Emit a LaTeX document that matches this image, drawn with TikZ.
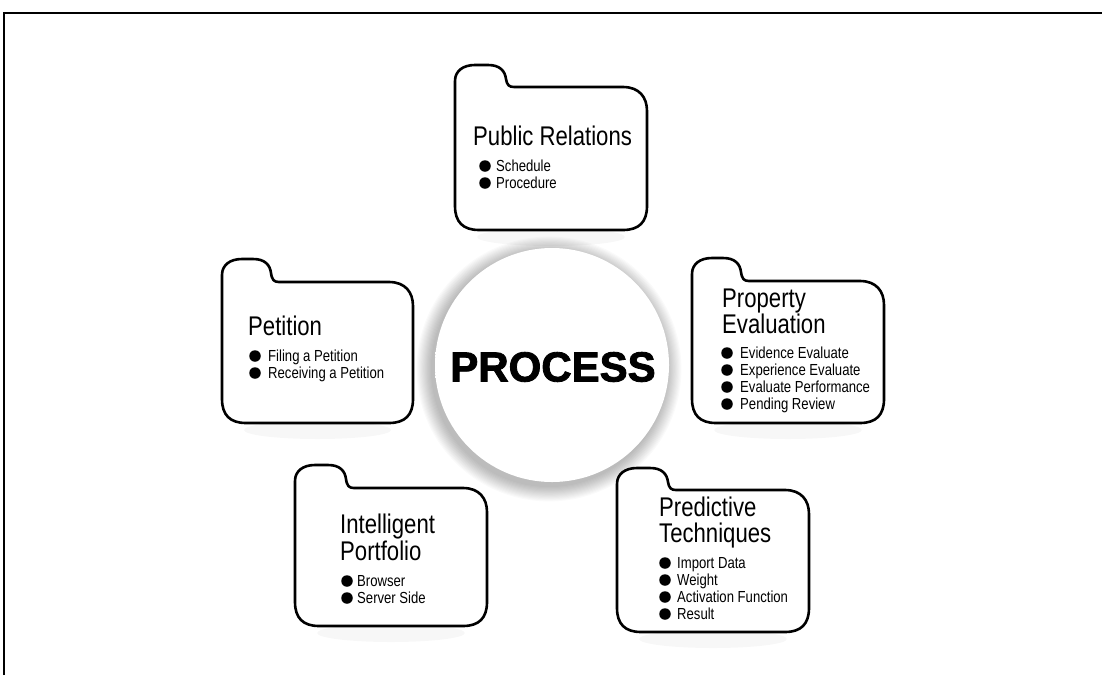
\documentclass[tikz,border=0pt]{standalone}
\usepackage{fontspec}
\newfontfamily\boxfont[FakeStretch=0.82]{Liberation Sans}
\newfontfamily\bigfont[BoldFeatures={FakeBold=2}]{Liberation Sans}
\pgfdeclareradialshading{spherefill}{\pgfpoint{0bp}{8bp}}{color(0bp)=(white); color(34bp)=(white); color(48bp)=(black!6); color(56bp)=(black!18); color(64bp)=(black!26)}
\tikzset{
  folderline/.style={line width=2.6pt, line join=round, fill=white},
  title/.style={font=\boxfont\fontsize{27}{27}\selectfont, anchor=base west, inner sep=0pt},
  item/.style={font=\boxfont\fontsize{16}{16}\selectfont, anchor=base west, inner sep=0pt},
  dot/.style={circle, fill=black, inner sep=0pt, minimum size=11.5pt}
}
\newcommand\drawfolder[6]{%
  \fill[black, opacity=0.03] ({(#1+#5)/2},#6+7) ellipse ({(#5-#1)/2.6} and 9);
  \draw[folderline] (#1,#6-24) -- (#1,#2+16) .. controls (#1,#2+6) and (#1+8,#2) .. (#1+20,#2)
   -- (#3-20,#2) .. controls (#3-8,#2) and (#3-3,#2+6) .. (#3-2,#2+14)
   .. controls (#3-1,#4-2) and (#3+1,#4) .. (#3+6,#4)
   -- (#5-24,#4) .. controls (#5-8,#4) and (#5,#4+10) .. (#5,#4+24)
   -- (#5,#6-24) .. controls (#5,#6-8) and (#5-8,#6) .. (#5-24,#6)
   -- (#1+24,#6) .. controls (#1+8,#6) and (#1,#6-8) .. (#1,#6-24) -- cycle;}
\newcommand\bulletitem[5]{% name, dot x, dot y, text x, text
  \node[dot] (#1d) at (#2,#3) {};
  \node[item] (#1) at (#4,#3+5.5) {#5};}
\begin{document}
\begin{tikzpicture}[x=1pt,y=-1pt]
\useasboundingbox (0,0) rectangle (1102,675);
\fill[white] (0,0) rectangle (1102,675);
\draw[line width=2pt] (4,675) -- (4,13) -- (1102,13);

% central sphere
\foreach \i in {1,...,14} {
  \fill[black, opacity=0.018] (549,369) circle ({117+\i*1.1});
}
\shade[shading=spherefill] (552,365) circle (117);
\node[font=\bigfont\bfseries\fontsize{42}{42}\selectfont, inner sep=0pt] (process) at (553,367) {PROCESS};

% Public Relations
\drawfolder{455}{65}{508}{87}{647}{230}
\node[title] (pr) at (473,145) {Public Relations};
\bulletitem{pr1}{485}{166}{496}{Schedule}
\bulletitem{pr2}{485}{183}{496}{Procedure}

% Petition
\drawfolder{222}{259}{273}{282}{413}{423}
\node[title] (pe) at (248,335) {Petition};
\bulletitem{pe1}{255}{356}{268}{Filing a Petition}
\bulletitem{pe2}{255}{373}{268}{Receiving a Petition}

% Property Evaluation
\drawfolder{692}{258}{743}{281}{884}{423}
\node[title] (pv1) at (722,307) {Property};
\node[title] (pv2) at (722,333) {Evaluation};
\bulletitem{pv3}{727}{353}{740}{Evidence Evaluate}
\bulletitem{pv4}{727}{370}{740}{Experience Evaluate}
\bulletitem{pv5}{727}{387}{740}{Evaluate Performance}
\bulletitem{pv6}{727}{404}{740}{Pending Review}

% Intelligent Portfolio
\drawfolder{295}{465}{348}{488}{487}{626}
\node[title] (ip1) at (340,533) {Intelligent};
\node[title] (ip2) at (340,560) {Portfolio};
\bulletitem{ip3}{347}{581}{357}{Browser}
\bulletitem{ip4}{347}{598}{357}{Server Side}

% Predictive Techniques
\drawfolder{617}{468}{670}{490}{809}{632}
\node[title] (pt1) at (659,516) {Predictive};
\node[title] (pt2) at (659,542) {Techniques};
\bulletitem{pt3}{665}{563}{677}{Import Data}
\bulletitem{pt4}{665}{580}{677}{Weight}
\bulletitem{pt5}{665}{597}{677}{Activation Function}
\bulletitem{pt6}{665}{614}{677}{Result}
\end{tikzpicture}
\end{document}
